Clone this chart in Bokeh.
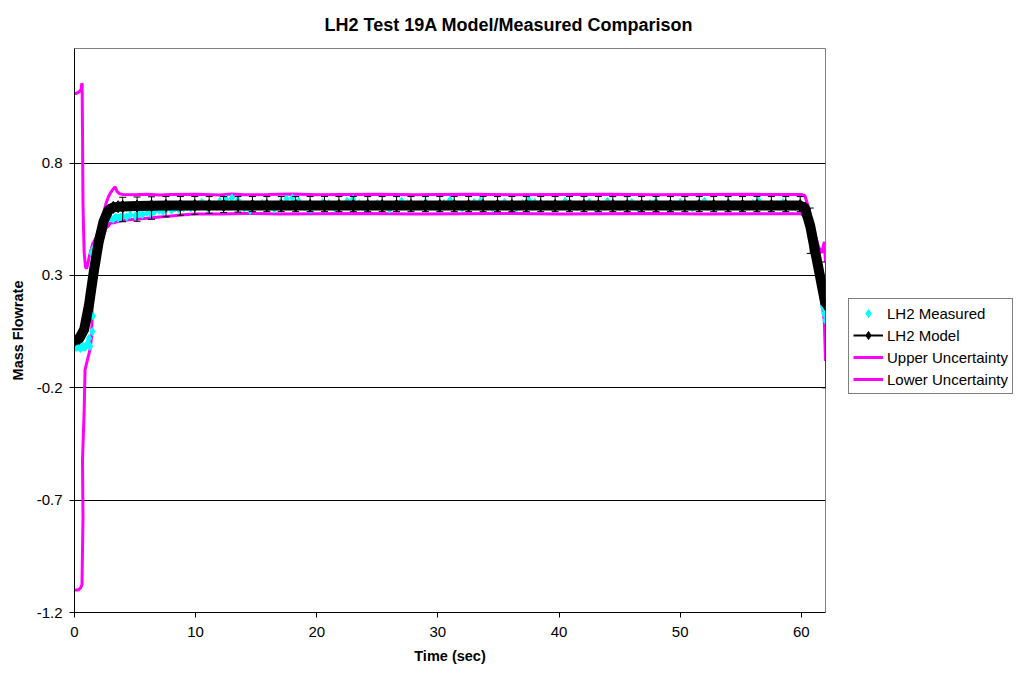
from bokeh.plotting import figure
from bokeh.layouts import row
from bokeh.models import (Range1d, FixedTicker, Legend, LegendItem, Whisker, TeeHead,
                          ColumnDataSource, CustomJSTickFormatter)
from bokeh.embed import file_html
from bokeh.resources import INLINE

FONT = "Liberation Sans"

title_text = "LH2 Test 19A Model/Measured Comparison"
x_label = "Time (sec)"
y_label = "Mass Flowrate"
x_ticks = [0, 10, 20, 30, 40, 50, 60]
y_ticks = [-1.2, -0.7, -0.2, 0.3, 0.8]
series_names = ["LH2 Measured", "LH2 Model", "Upper Uncertainty", "Lower Uncertainty"]

# LH2 Measured (cyan)
meas_t = [0.0, 0.1, 0.2, 0.3, 0.4, 0.5, 0.6, 0.7, 0.8, 0.9, 1.0, 1.1, 1.2, 1.28, 1.33, 1.38,
          1.42, 1.47, 1.52, 1.56, 1.6, 1.7, 1.8, 1.9, 2.0, 2.1, 2.2, 2.3, 2.4, 2.5, 2.6, 2.7,
          2.8, 2.9, 3.0, 3.2, 3.4, 3.6, 3.8, 4.0, 4.3, 4.6, 5.0, 5.3, 5.6, 6.0, 6.3, 6.6, 7.0,
          7.3, 7.6, 8.0, 8.3, 8.6, 9.0, 9.3, 9.6,
          10.0, 10.5, 11.0, 11.5, 12.0, 12.5, 13.0, 13.5, 14.0, 14.5, 15.0, 15.5, 16.0, 16.5,
          17.0, 17.5, 18.0, 18.5, 19.0, 19.5, 20.0, 20.5, 21.0, 21.5, 22.0, 22.5, 23.0, 23.5,
          24.0, 24.5, 25.0, 25.5, 26.0, 26.5, 27.0, 27.5, 28.0, 28.5, 29.0, 29.5, 30.0, 30.5,
          31.0, 31.5, 32.0, 32.5, 33.0, 33.5, 34.0, 34.5, 35.0, 35.5, 36.0, 36.5, 37.0, 37.5,
          38.0, 38.5, 39.0, 39.5, 40.0, 40.5, 41.0, 41.5, 42.0, 42.5, 43.0, 43.5, 44.0, 44.5,
          45.0, 45.5, 46.0, 46.5, 47.0, 47.5, 48.0, 48.5, 49.0, 49.5, 50.0, 50.5, 51.0, 51.5,
          52.0, 52.5, 53.0, 53.5, 54.0, 54.5, 55.0, 55.5, 56.0, 56.5, 57.0, 57.5, 58.0, 58.5,
          59.0, 59.5, 60.0, 60.3, 60.6, 60.9, 61.2, 61.5, 61.8, 61.9, 62.0]
meas_v = [-0.01, -0.02, -0.02, -0.015, -0.02, -0.025, -0.02, -0.015, -0.02, -0.02, -0.01, 0.0,
          0.02, -0.015, 0.15, 0.30, 0.40, 0.05, 0.12, 0.42, 0.38, 0.37, 0.40, 0.42, 0.44, 0.46,
          0.48, 0.51, 0.53, 0.55, 0.56, 0.57, 0.565, 0.56, 0.555, 0.55, 0.56, 0.555, 0.56,
          0.565, 0.56, 0.57, 0.565, 0.575, 0.57, 0.58, 0.575, 0.585, 0.59, 0.585, 0.595, 0.59,
          0.60, 0.595, 0.60, 0.605, 0.60,
          0.605, 0.625, 0.600, 0.615, 0.630, 0.640, 0.645, 0.635, 0.600, 0.590, 0.610, 0.620,
          0.600, 0.595, 0.625, 0.640, 0.645, 0.630, 0.605, 0.595, 0.610, 0.625, 0.620, 0.600,
          0.615, 0.630, 0.640, 0.620, 0.600, 0.610, 0.620, 0.605, 0.595, 0.615, 0.630, 0.620,
          0.605, 0.615, 0.625, 0.610, 0.600, 0.620, 0.635, 0.615, 0.600, 0.610, 0.625, 0.630,
          0.610, 0.600, 0.615, 0.625, 0.605, 0.600, 0.620, 0.635, 0.625, 0.605, 0.615, 0.600,
          0.610, 0.630, 0.620, 0.605, 0.615, 0.625, 0.600, 0.610, 0.630, 0.620, 0.605, 0.615,
          0.625, 0.600, 0.610, 0.620, 0.630, 0.610, 0.600, 0.615, 0.625, 0.610, 0.600, 0.620,
          0.630, 0.615, 0.605, 0.610, 0.625, 0.615, 0.600, 0.610, 0.620, 0.630, 0.610, 0.600,
          0.615, 0.625, 0.610, 0.605, 0.615, 0.60, 0.55, 0.47, 0.38, 0.29, 0.16, 0.13, 0.10]

# LH2 Model (black)
model_t = [0.0, 0.4, 0.8, 1.2, 1.6, 2.0, 2.4, 2.8, 3.2, 3.6,
           3.98, 5.17, 6.36, 7.55, 8.74, 9.93, 11.12, 12.31, 13.50, 14.69, 15.88, 17.07,
           18.26, 19.45, 20.64, 21.83, 23.02, 24.21, 25.40, 26.59, 27.78, 28.97, 30.16,
           31.35, 32.54, 33.73, 34.92, 36.11, 37.30, 38.49, 39.68, 40.87, 42.06, 43.25,
           44.44, 45.63, 46.82, 48.01, 49.20, 50.39, 51.58, 52.77, 53.96, 55.15, 56.34,
           57.53, 58.72, 59.91, 60.3, 60.74, 61.1, 61.5, 62.0]
model_v = [0.01, 0.02, 0.06, 0.17, 0.32, 0.45, 0.54, 0.59, 0.603, 0.606,
           0.607, 0.609, 0.610, 0.611, 0.611, 0.611, 0.611, 0.611, 0.611, 0.611, 0.611, 0.611,
           0.611, 0.611, 0.611, 0.611, 0.611, 0.611, 0.611, 0.611, 0.611, 0.611, 0.611,
           0.611, 0.611, 0.611, 0.611, 0.611, 0.611, 0.611, 0.611, 0.611, 0.611, 0.611,
           0.611, 0.611, 0.611, 0.611, 0.611, 0.611, 0.611, 0.611, 0.611, 0.611, 0.611,
           0.611, 0.611, 0.611, 0.60, 0.52, 0.42, 0.31, 0.17]

# Model error bars
err_t = [3.98, 5.17, 6.36, 7.55, 8.74, 9.93, 11.12, 12.31, 13.50, 14.69, 15.88, 17.07,
         18.26, 19.45, 20.64, 21.83, 23.02, 24.21, 25.40, 26.59, 27.78, 28.97, 30.16,
         31.35, 32.54, 33.73, 34.92, 36.11, 37.30, 38.49, 39.68, 40.87, 42.06, 43.25,
         44.44, 45.63, 46.82, 48.01, 49.20, 50.39, 51.58, 52.77, 53.96, 55.15, 56.34,
         57.53, 58.72, 59.91, 60.74, 62.0]
err_hi = [0.648, 0.649, 0.650, 0.651, 0.651, 0.651, 0.651, 0.651, 0.651, 0.651, 0.651, 0.651,
          0.651, 0.651, 0.651, 0.651, 0.651, 0.651, 0.651, 0.651, 0.651, 0.651, 0.651,
          0.651, 0.651, 0.651, 0.651, 0.651, 0.651, 0.651, 0.651, 0.651, 0.651, 0.651,
          0.651, 0.651, 0.651, 0.651, 0.651, 0.651, 0.651, 0.651, 0.651, 0.651, 0.651,
          0.651, 0.651, 0.651, 0.60, 0.36]
err_lo = [0.539, 0.541, 0.550, 0.561, 0.568, 0.572, 0.577, 0.580, 0.582, 0.584, 0.584, 0.584,
          0.584, 0.584, 0.584, 0.584, 0.584, 0.584, 0.584, 0.584, 0.584, 0.584, 0.584,
          0.584, 0.584, 0.584, 0.584, 0.584, 0.584, 0.584, 0.584, 0.584, 0.584, 0.584,
          0.584, 0.584, 0.584, 0.584, 0.584, 0.584, 0.584, 0.584, 0.584, 0.584, 0.584,
          0.584, 0.584, 0.584, 0.398, -0.20]

# Upper Uncertainty (magenta)
up_t = [0.0, 0.15, 0.3, 0.45, 0.55, 0.6, 0.63, 0.66, 0.7, 0.75, 0.8, 0.9, 1.0, 1.1, 1.2, 1.3,
        1.4, 1.5, 1.6, 1.8, 2.0, 2.2, 2.4, 2.6, 2.8, 3.0, 3.2, 3.35, 3.5, 3.7, 4.0, 5.0, 6.0,
        7.0, 8.0, 10.0, 12.0, 13.0, 14.0, 16.0, 18.0, 20.0, 22.0, 25.0, 28.0, 30.0, 33.0,
        36.0, 40.0, 44.0, 48.0, 52.0, 56.0, 59.0, 60.0, 60.3, 60.6, 60.9, 61.2, 61.4, 61.7,
        61.9, 62.0]
up_v = [1.11, 1.11, 1.115, 1.12, 1.13, 1.155, 1.15, 0.95, 0.62, 0.50, 0.40, 0.34, 0.33, 0.35,
        0.38, 0.40, 0.42, 0.44, 0.45, 0.47, 0.50, 0.54, 0.58, 0.62, 0.65, 0.67, 0.685, 0.695,
        0.675, 0.664, 0.660, 0.659, 0.661, 0.658, 0.660, 0.661, 0.658, 0.663, 0.659, 0.660,
        0.662, 0.659, 0.660, 0.661, 0.659, 0.660, 0.661, 0.659, 0.660, 0.661, 0.659, 0.660,
        0.661, 0.660, 0.660, 0.655, 0.60, 0.53, 0.47, 0.43, 0.40, 0.45, 0.36]

# Lower Uncertainty (magenta)
lo_t = [0.0, 0.3, 0.5, 0.6, 0.62, 0.7, 0.66, 0.8, 0.87, 1.0, 1.28, 1.42, 1.5, 1.6, 1.8, 2.0,
        2.2, 2.4, 2.6, 2.8, 2.95, 3.3, 3.6, 4.0, 4.5, 5.0, 6.0, 7.0, 8.0, 9.0, 10.0, 12.0,
        14.0, 17.0, 20.0, 24.0, 28.0, 32.0, 36.0, 40.0, 44.0, 48.0, 52.0, 56.0, 60.0, 60.3,
        60.6, 60.9, 61.2, 61.5, 61.8, 61.9, 62.0]
lo_v = [-1.10, -1.10, -1.09, -1.08, -1.07, -0.78, -0.52, -0.30, -0.12, -0.09, -0.03, 0.03,
        0.30, 0.35, 0.37, 0.40, 0.44, 0.48, 0.51, 0.52, 0.533, 0.535, 0.54, 0.545, 0.548,
        0.55, 0.555, 0.56, 0.565, 0.57, 0.573, 0.574, 0.576, 0.574, 0.575, 0.576, 0.574,
        0.575, 0.576, 0.574, 0.575, 0.576, 0.574, 0.575, 0.575, 0.56, 0.51, 0.43, 0.34,
        0.26, 0.14, 0.10, -0.08]

CYAN = "#00FFFF"
MAGENTA = "#FF00FF"

MAIN_W = 835
p = figure(width=MAIN_W, height=673, x_range=Range1d(0, 62), y_range=Range1d(-1.2, 1.31),
           output_backend="svg", toolbar_location=None,
           min_border_left=74, min_border_right=10, min_border_top=48, min_border_bottom=61,
           title=title_text)

p.title.align = "left"
p.title.vertical_align = "top"
p.title.offset = 250
p.title.standoff = 24
p.title.text_font = FONT
p.title.text_font_size = "18px"
p.title.text_font_style = "bold"
p.title.text_color = "black"

p.background_fill_color = "white"
p.border_fill_color = "white"
p.outline_line_color = "#808080"
p.outline_line_width = 1

p.xgrid.visible = False
p.ygrid.ticker = FixedTicker(ticks=y_ticks)
p.ygrid.grid_line_color = "black"
p.ygrid.grid_line_width = 1

p.xaxis.ticker = FixedTicker(ticks=x_ticks)
p.yaxis.ticker = FixedTicker(ticks=y_ticks)
p.yaxis.formatter = CustomJSTickFormatter(code="return tick.toFixed(1);")
for ax in (p.xaxis, p.yaxis):
    ax.axis_line_color = "black"
    ax.major_tick_line_color = "black"
    ax.major_tick_out = 5
    ax.major_tick_in = 0
    ax.minor_tick_line_color = None
    ax.major_label_text_font = FONT
    ax.major_label_text_font_size = "15px"
    ax.major_label_text_color = "black"
    ax.axis_label_text_font = FONT
    ax.axis_label_text_font_size = "14.5px"
    ax.axis_label_text_font_style = "bold"
    ax.axis_label_text_color = "black"
p.xaxis.axis_label = x_label
p.yaxis.axis_label = y_label
p.xaxis.major_label_standoff = 9
p.yaxis.major_label_standoff = 7
p.xaxis.axis_label_standoff = 8
p.yaxis.axis_label_standoff = 8

p.line(up_t, up_v, line_color=MAGENTA, line_width=3)
p.line(lo_t, lo_v, line_color=MAGENTA, line_width=3)

p.scatter(meas_t, meas_v, marker="diamond", size=8, fill_color=CYAN, line_color=CYAN)

err_src = ColumnDataSource(data=dict(t=err_t, hi=err_hi, lo=err_lo))
whisk = Whisker(source=err_src, base="t", upper="hi", lower="lo", dimension="height",
                line_color="black", line_width=1, level="glyph",
                upper_head=TeeHead(size=7, line_color="black", line_width=1),
                lower_head=TeeHead(size=7, line_color="black", line_width=1))
p.add_layout(whisk)

p.line(model_t, model_v, line_color="black", line_width=10, line_join="round")
p.scatter(model_t, model_v, marker="diamond", size=12, fill_color="black", line_color="black")

# ---- legend panel: a second, axis-less figure to the right ----
LEG_W = 1018 - MAIN_W
lf = figure(width=LEG_W, height=673, x_range=Range1d(0, 1), y_range=Range1d(0, 1),
            output_backend="svg", toolbar_location=None, x_axis_type=None, y_axis_type=None,
            min_border=0)
lf.outline_line_color = None
lf.xgrid.visible = False
lf.ygrid.visible = False
lf.background_fill_color = "white"
lf.border_fill_color = "white"

proxy_x = [-100]
proxy_y = [-100]
lg_meas = lf.scatter(proxy_x, proxy_y, marker="diamond", size=7, fill_color=CYAN,
                     line_color=CYAN)
lg_model_line = lf.line(proxy_x, proxy_y, line_color="black", line_width=2)
lg_model_mark = lf.scatter(proxy_x, proxy_y, marker="diamond", size=10, fill_color="black",
                           line_color="black")
lg_up = lf.line(proxy_x, proxy_y, line_color=MAGENTA, line_width=3)
lg_lo = lf.line(proxy_x, proxy_y, line_color=MAGENTA, line_width=3)

legend = Legend(items=[
    LegendItem(label=series_names[0], renderers=[lg_meas]),
    LegendItem(label=series_names[1], renderers=[lg_model_line, lg_model_mark]),
    LegendItem(label=series_names[2], renderers=[lg_up]),
    LegendItem(label=series_names[3], renderers=[lg_lo]),
], location=(848 - MAIN_W, 218))
legend.label_text_font = FONT
legend.label_text_font_size = "15px"
legend.label_text_color = "black"
legend.glyph_width = 30
legend.glyph_height = 20
legend.label_height = 20
legend.spacing = 2
legend.padding = 4
legend.margin = 0
legend.label_standoff = 4
legend.border_line_color = "black"
legend.border_line_width = 1
legend.background_fill_color = "white"
legend.background_fill_alpha = 1
lf.add_layout(legend, "center")

layout = row(p, lf, spacing=0)
open("out.html", "w").write(file_html(layout, INLINE))
